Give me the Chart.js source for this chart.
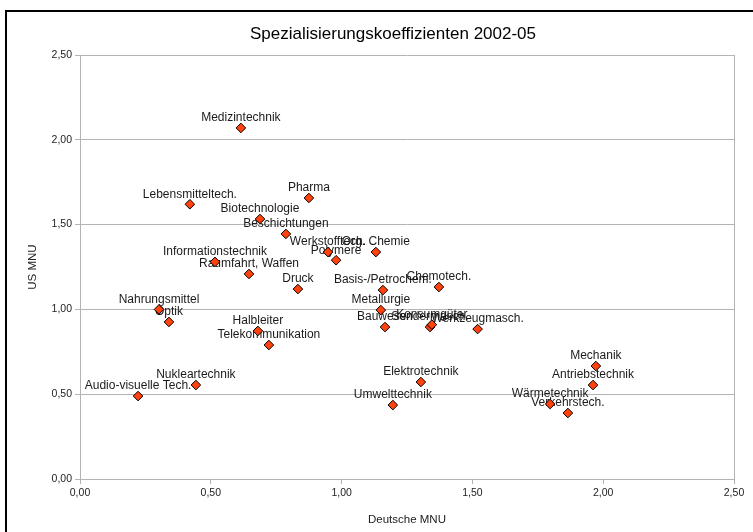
<!DOCTYPE html>
<html><head><meta charset="utf-8">
<script src="https://cdn.jsdelivr.net/npm/chart.js@4.4.1/dist/chart.umd.min.js"></script>
<style>html,body{margin:0;padding:0;background:#fff;overflow:hidden;} canvas{display:block;}</style>
</head><body>
<canvas id="c" width="753" height="532"></canvas>
<script>
const chartTitle = 'Spezialisierungskoeffizienten 2002-05';
const xAxisTitle = 'Deutsche MNU';
const yAxisTitle = 'US MNU';

const fields = [
  'Medizintechnik', 'Lebensmitteltech.', 'Pharma', 'Biotechnologie', 'Beschichtungen',
  'Werkstofftech.', 'Polymere', 'Org. Chemie', 'Informationstechnik', 'Raumfahrt, Waffen',
  'Druck', 'Basis-/Petrochem.', 'Chemotech.', 'Metallurgie', 'Bauwesen',
  'Sondermasch.', 'Konsumgüter', 'Werkzeugmasch.', 'Halbleiter', 'Telekommunikation',
  'Nahrungsmittel', 'Optik', 'Nukleartechnik', 'Audio-visuelle Tech.', 'Elektrotechnik',
  'Umwelttechnik', 'Mechanik', 'Antriebstechnik', 'Wärmetechnik', 'Verkehrstech.'
];
const deutscheMNU = [
  0.615, 0.42, 0.875, 0.688, 0.787,
  0.948, 0.979, 1.131, 0.516, 0.646,
  0.833, 1.158, 1.372, 1.15, 1.166,
  1.338, 1.345, 1.52, 0.68, 0.722,
  0.302, 0.34, 0.443, 0.222, 1.303,
  1.196, 1.972, 1.961, 1.797, 1.865
];
const usMNU = [
  2.07, 1.62, 1.657, 1.533, 1.445,
  1.338, 1.29, 1.338, 1.28, 1.209,
  1.12, 1.114, 1.132, 0.996, 0.896,
  0.896, 0.91, 0.884, 0.873, 0.79,
  1.0, 0.926, 0.554, 0.489, 0.572,
  0.436, 0.666, 0.554, 0.442, 0.389
];
const axisMin = 0, axisMax = 2.5, axisStep = 0.5;

const GRID = '#b3b3b3';
const FONT = "'Liberation Sans', Arial, sans-serif";
const fmt = v => Number(v).toFixed(2).replace('.', ',');

const points = deutscheMNU.map((x, i) => ({ x: x, y: usMNU[i] }));

const framePlugin = {
  id: 'frame',
  beforeDraw(chart) {
    const ctx = chart.ctx;
    ctx.save();
    ctx.fillStyle = '#fff';
    ctx.fillRect(0, 0, chart.width, chart.height);
    ctx.fillStyle = '#000';
    ctx.fillRect(5, 10, 2, chart.height - 10);
    ctx.fillRect(5, 10, chart.width - 5, 2);
    ctx.restore();
  },
  afterDraw(chart) {
    const ctx = chart.ctx;
    ctx.save();
    ctx.fillStyle = '#000';
    ctx.font = '17px ' + FONT;
    ctx.textAlign = 'center';
    ctx.textBaseline = 'middle';
    ctx.fillText(chartTitle, 393, 34);
    ctx.restore();
  }
};

const labelPlugin = {
  id: 'pointLabels',
  beforeDatasetsDraw(chart) {
    const ctx = chart.ctx;
    const meta = chart.getDatasetMeta(0);
    ctx.save();
    ctx.fillStyle = '#1a1a1a';
    ctx.font = '12px ' + FONT;
    ctx.textAlign = 'center';
    ctx.textBaseline = 'middle';
    meta.data.forEach((el, i) => {
      ctx.fillText(fields[i], el.x, el.y - 10);
    });
    ctx.restore();
  }
};

new Chart(document.getElementById('c'), {
  type: 'scatter',
  data: {
    datasets: [{
      data: points,
      pointStyle: 'rectRot',
      radius: 4.8,
      hoverRadius: 4.8,
      backgroundColor: '#ff420e',
      borderColor: '#000',
      borderWidth: 1
    }]
  },
  options: {
    responsive: false,
    animation: false,
    events: [],
    layout: { padding: { top: 55, right: 19, left: 0, bottom: 0 } },
    plugins: { legend: { display: false }, tooltip: { enabled: false }, title: { display: false } },
    scales: {
      x: {
        type: 'linear', min: axisMin, max: axisMax,
        ticks: { stepSize: axisStep, callback: v => fmt(v), color: '#222', font: { family: FONT, size: 10.5 }, padding: 3, maxRotation: 0 },
        grid: { color: c => (c.tick && c.tick.value === axisMax) ? GRID : 'rgba(0,0,0,0)', tickColor: GRID, tickLength: 5, drawOnChartArea: true },
        border: { color: GRID, width: 1 },
        title: { display: true, text: xAxisTitle, color: '#222', font: { family: FONT, size: 11.5 }, padding: { top: 0, bottom: 5 } },
        afterFit: s => { s.height = 53; }
      },
      y: {
        type: 'linear', min: axisMin, max: axisMax,
        ticks: { stepSize: axisStep, callback: v => fmt(v), color: '#222', font: { family: FONT, size: 10.5 }, padding: 3 },
        grid: { color: GRID, tickColor: GRID, tickLength: 5 },
        border: { color: GRID, width: 1 },
        title: { display: true, text: yAxisTitle, color: '#222', font: { family: FONT, size: 11.5 }, padding: { top: 26, bottom: 0 } },
        afterFit: s => { s.width = 80; }
      }
    }
  },
  plugins: [framePlugin, labelPlugin]
});
</script>
</body></html>
